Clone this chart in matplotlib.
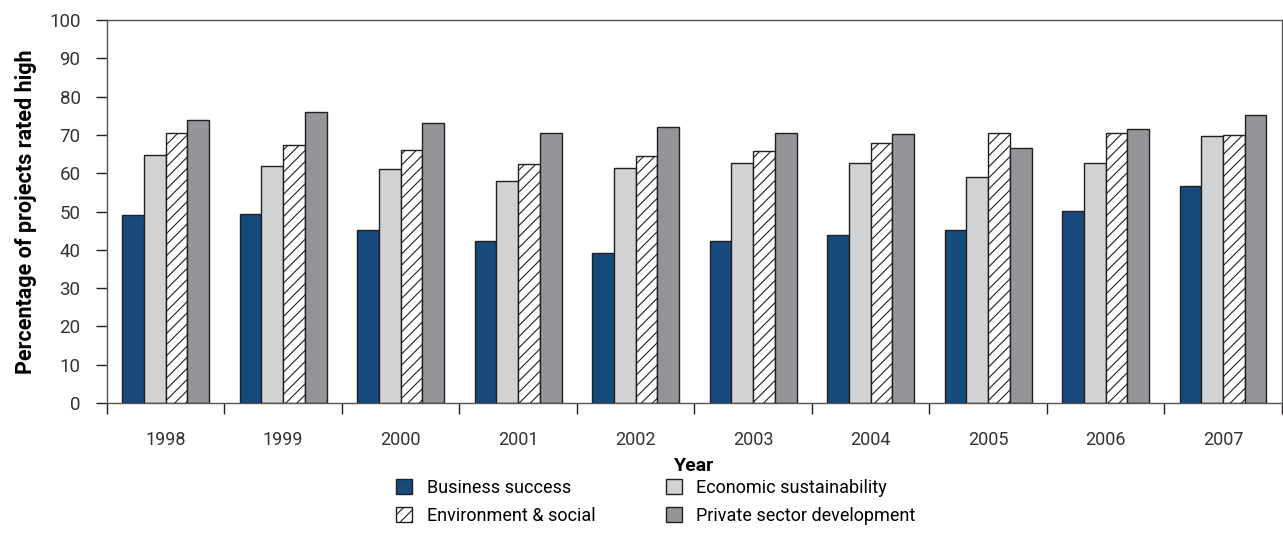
import numpy as np
import matplotlib.pyplot as plt
from matplotlib.patches import Patch

years = ["1998", "1999", "2000", "2001", "2002", "2003", "2004", "2005", "2006", "2007"]
business = [49.2, 49.4, 45.1, 42.3, 39.2, 42.4, 43.9, 45.2, 50.1, 56.6]
economic = [64.7, 62.0, 61.0, 58.0, 61.3, 62.8, 62.6, 59.0, 62.8, 69.8]
environment = [70.6, 67.5, 66.0, 62.3, 64.5, 65.9, 68.0, 70.5, 70.4, 70.1]
private = [73.8, 76.0, 73.1, 70.6, 72.0, 70.6, 70.3, 66.7, 71.6, 75.1]

plt.rcParams['font.family'] = ['Roboto', 'DejaVu Sans']
plt.rcParams['hatch.linewidth'] = 0.8

fig = plt.figure(figsize=(12.83, 5.56), dpi=100)
ax = fig.add_axes([0.0834, 0.275, 0.9156, 0.689])

x = np.arange(len(years))
w = 0.185
edge = "#231f20"
series = [
    (business, "Business success", "#174a7c", None),
    (economic, "Economic sustainability", "#d1d3d4", None),
    (environment, "Environment & social", "white", "///"),
    (private, "Private sector development", "#939598", None),
]
for i, (vals, lab, col, hatch) in enumerate(series):
    ax.bar(x + (i - 1.5) * w, vals, w, color=col, edgecolor=edge,
           linewidth=1.0, hatch=hatch, label=lab)

ax.set_xlim(-0.5, len(years) - 0.5)
ax.set_ylim(0, 100)
ax.set_yticks(range(0, 101, 10))
ax.set_xticks(x)
ax.set_xticklabels(years)
ax.set_xticks(np.arange(-0.5, len(years)), minor=True)
ax.tick_params(axis='x', which='major', length=0, labelsize=13, pad=20, labelcolor="#333333")
ax.tick_params(axis='x', which='minor', length=8, width=1, color=edge)
ax.tick_params(axis='y', length=8, width=1, labelsize=13.5, color=edge, pad=11,
               labelcolor="#333333")
for s in ax.spines.values():
    s.set_color("#555555")
    s.set_linewidth(1.0)

ax.set_xlabel("Year", fontsize=14, fontweight='bold', labelpad=6)
ax.set_ylabel("Percentage of projects rated high", fontsize=15.5, fontweight='bold', labelpad=9)

handles = [Patch(facecolor=c, edgecolor=edge, hatch=h, label=l, linewidth=1.0)
           for _, l, c, h in series]
order = [0, 2, 1, 3]
fig.legend([handles[k] for k in order], [series[k][1] for k in order],
           loc='upper left', bbox_to_anchor=(0.303, 0.152), ncol=2, frameon=False,
           fontsize=13, handlelength=0.9, handleheight=0.9, handletextpad=0.8,
           columnspacing=3.9, labelspacing=0.55, borderaxespad=0)

fig.savefig("out.png", dpi=100)
